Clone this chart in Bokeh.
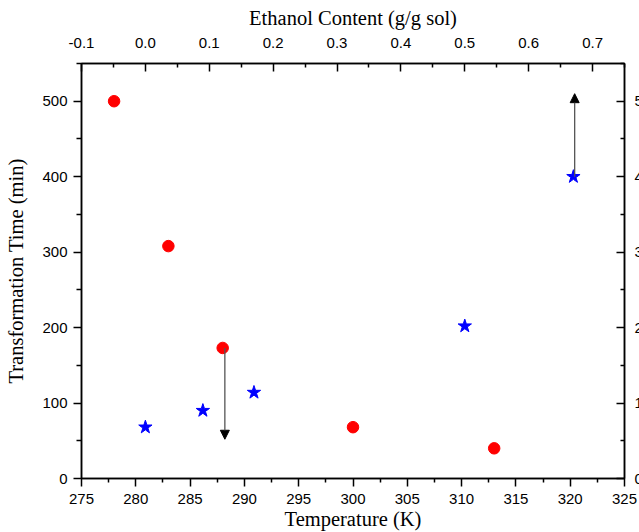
from bokeh.plotting import figure
from bokeh.models import Range1d, LinearAxis, FixedTicker, NumeralTickFormatter, Arrow, NormalHead
from bokeh.embed import file_html
from bokeh.resources import INLINE

# Red circles: transformation time vs temperature
temp_K = [278, 283, 288, 300, 313]
temp_time = [500, 308, 173, 68, 40]

# Blue stars: transformation time vs ethanol content
ethanol = [0.0, 0.09, 0.17, 0.5, 0.67]
ethanol_time = [68, 90, 114, 202, 400]

# Arrows (bounds): down from the 288 K point, up from the 0.67 g/g point
arrow_temp_x = 288.2
arrow_temp_from = 173
arrow_temp_to = 52
arrow_eth_x = 0.672
arrow_eth_from = 400
arrow_eth_to = 510

# Ticks
temp_ticks = [275, 280, 285, 290, 295, 300, 305, 310, 315, 320, 325]
temp_minor = [277.5, 282.5, 287.5, 292.5, 297.5, 302.5, 307.5, 312.5, 317.5, 322.5]
eth_ticks = [-0.1, 0.0, 0.1, 0.2, 0.3, 0.4, 0.5, 0.6, 0.7]
eth_minor = [-0.05, 0.05, 0.15, 0.25, 0.35, 0.45, 0.55, 0.65, 0.75]
time_ticks = [0, 100, 200, 300, 400, 500]
time_minor = [50, 150, 250, 350, 450, 550]

TICK_FONT = "Liberation Sans"
LABEL_FONT = "Liberation Serif"

p = figure(frame_width=543, frame_height=415,
           x_range=Range1d(275, 325), y_range=Range1d(0, 550),
           output_backend="svg", toolbar_location=None,
           min_border_left=81, min_border_top=63, min_border_bottom=54,
           min_border_right=0)
p.extra_x_ranges = {"eth": Range1d(-0.1, 0.75)}

p.xgrid.visible = False
p.ygrid.visible = False
p.outline_line_color = "black"
p.outline_line_width = 1.5
p.background_fill_color = "white"
p.border_fill_color = "white"


def style(ax, tin, tout, mtin, mtout):
    ax.axis_line_color = "black"
    ax.axis_line_width = 1.5
    ax.major_tick_line_width = 1.5
    ax.minor_tick_line_width = 1.5
    ax.major_tick_in = tin
    ax.major_tick_out = tout
    ax.minor_tick_in = mtin
    ax.minor_tick_out = mtout
    ax.major_label_text_font = TICK_FONT
    ax.major_label_text_font_size = "15px"
    ax.major_label_text_color = "black"
    ax.axis_label_text_font = LABEL_FONT
    ax.axis_label_text_font_size = "20.5px"
    ax.axis_label_text_font_style = "normal"
    ax.axis_label_text_color = "black"


# bottom axis
bx = p.xaxis[0]
bx.ticker = FixedTicker(ticks=temp_ticks, minor_ticks=temp_minor)
bx.axis_label = "Temperature (K)"
style(bx, 0, 8, 0, 4)
bx.major_label_standoff = 7
bx.axis_label_standoff = 1

# left axis
ly = p.yaxis[0]
ly.ticker = FixedTicker(ticks=time_ticks, minor_ticks=time_minor)
ly.axis_label = "Transformation Time (min)"
style(ly, 0, 8, 0, 5)
ly.major_label_standoff = 6
ly.axis_label_standoff = 12

# top axis
tx = LinearAxis(x_range_name="eth",
                ticker=FixedTicker(ticks=eth_ticks, minor_ticks=eth_minor),
                formatter=NumeralTickFormatter(format="0.0"),
                axis_label="Ethanol Content (g/g sol)")
style(tx, 8, 0, 4, 0)
tx.major_label_standoff = 16
tx.axis_label_standoff = 6
p.add_layout(tx, "above")

# right axis
ry = LinearAxis(ticker=FixedTicker(ticks=time_ticks, minor_ticks=time_minor))
style(ry, 8, 0, 4, 0)
ry.major_label_standoff = 10
p.add_layout(ry, "right")

# arrows
p.add_layout(Arrow(end=NormalHead(size=9, fill_color="black", line_color="black"),
                   x_start=arrow_temp_x, y_start=arrow_temp_from,
                   x_end=arrow_temp_x, y_end=arrow_temp_to,
                   line_color="#555555", line_width=1.3))
p.add_layout(Arrow(end=NormalHead(size=9, fill_color="black", line_color="black"),
                   x_start=arrow_eth_x, y_start=arrow_eth_from,
                   x_end=arrow_eth_x, y_end=arrow_eth_to,
                   x_range_name="eth",
                   line_color="#555555", line_width=1.3))

p.scatter(temp_K, temp_time, marker="circle", size=11.5,
          fill_color="#ff0000", line_color="#ff0000")
p.scatter(ethanol, ethanol_time, marker="star", size=14, x_range_name="eth",
          fill_color="#0000ff", line_color="#0000ff")

open("out.html", "w").write(file_html(p, INLINE))
